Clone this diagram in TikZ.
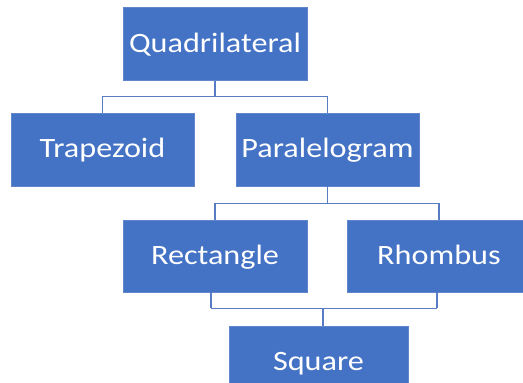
\documentclass[tikz,border=0pt]{standalone}
\usepackage{fontspec}
\setmainfont{Carlito}[FakeStretch=1.15]
\definecolor{boxblue}{RGB}{68,114,196}
\definecolor{linkblue}{RGB}{88,124,196}
\tikzset{
  shape box/.style={rectangle, fill=boxblue, draw=boxblue!85!white, text=white,
    minimum width=184pt, minimum height=73pt, inner sep=0pt,
    text height=18pt, text depth=2pt,
    font=\fontsize{28}{30}\selectfont},
  link/.style={draw=linkblue, line width=1.4pt}
}
\begin{document}
\begin{tikzpicture}[x=1pt,y=-1pt]
\useasboundingbox (0,0) rectangle (523,383);
% boxes
\node[shape box] (quad) at (215,44) {Quadrilateral};
\node[shape box, minimum width=183pt] (trap) at (102.5,149.5) {Trapezoid};
\node[shape box, minimum width=183pt] (para) at (327.5,149.5) {Paralelogram};
\node[shape box, minimum height=72pt] (rect) at (215,256) {Rectangle};
\node[shape box, minimum height=72pt] (rhom) at (439,256) {Rhombus};
\node[shape box, minimum width=179pt] (squa) at (318.5,362.5) {Square};

% connectors
\draw[link] (quad.south) -- ++(0,16) coordinate (qj);
\draw[link] (qj) -| (trap.north);
\draw[link] (qj) -| (para.north);
\draw[link] (para.south) -- ++(0,17) coordinate (pj);
\draw[link] (pj) -| (rect.north);
\draw[link] (pj) -| (rhom.north);
\draw[link] ([xshift=-4pt]rect.south) -- ++(0,16) coordinate (rj);
\draw[link] ([xshift=-2pt]rhom.south) -- ++(0,16) coordinate (hj);
\draw[link] (rj) -- (hj);
\coordinate (sj) at ([xshift=4.5pt]squa.north);
\draw[link] (sj) -- (sj |- rj);
\end{tikzpicture}
\end{document}
